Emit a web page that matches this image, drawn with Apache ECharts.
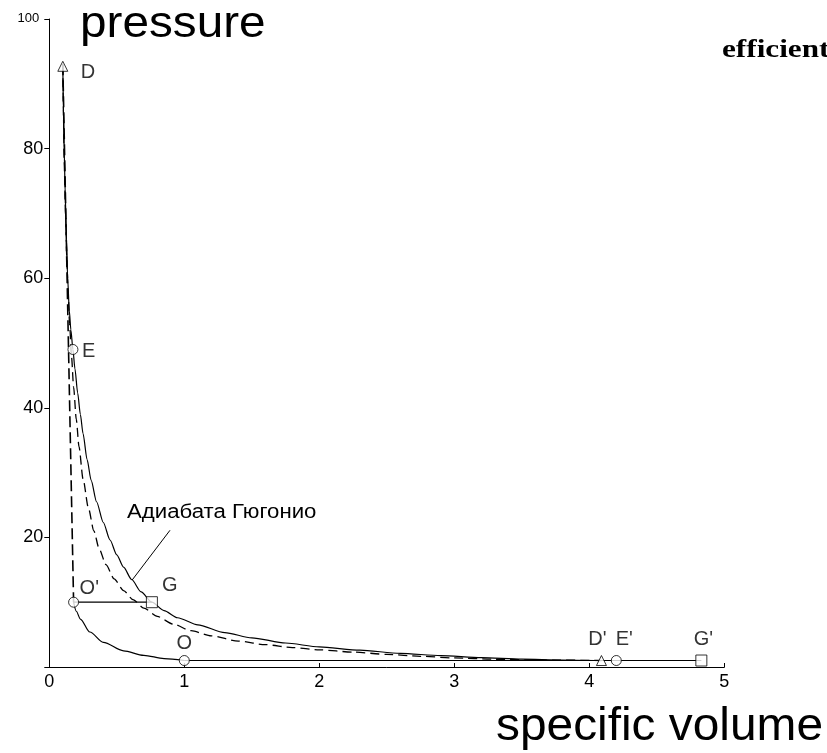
<!DOCTYPE html>
<html>
<head>
<meta charset="utf-8">
<script src="https://cdn.jsdelivr.net/npm/echarts@6/dist/echarts.min.js"></script>
<style>
html,body{margin:0;padding:0;background:#fff;}
#c{width:827px;height:753px;}
</style>
</head>
<body>
<div id="c"></div>
<script>
// ---- data ----
const xTicks = [0, 1, 2, 3, 4, 5];
const yTicks = [0, 20, 40, 60, 80, 100];
const hugoniotX = [0.100,0.105,0.110,0.118,0.127,0.136,0.148,0.160,0.175,0.190,0.210,0.230,0.250,0.280,0.310,0.350,0.400,0.450,0.500,0.550,0.610,0.680,0.760,0.850,0.950,1.100,1.300,1.500,1.750,2.000,2.300,2.600,2.900,3.200,3.500,3.800,4.090];
const hugoniotY = [93,86,80,73,66,60,55,52,49,46,42.3,39,36,32,28.8,25.5,22.3,19.6,17.3,15.4,13.5,11.6,10,8.7,7.6,6.5,5.3,4.5,3.7,3.1,2.6,2.1,1.75,1.45,1.22,1.08,1.0];
const poissonX = [0.100,0.105,0.110,0.120,0.130,0.140,0.150,0.165,0.180,0.200,0.220,0.250,0.290,0.330,0.370,0.420,0.480,0.550,0.620,0.700,0.800,0.920,1.050,1.200,1.400,1.600,1.800,2.000,2.250,2.500,2.750,3.000,3.300,3.600,4.090];
const poissonY = [93,85,78,70,63,57.5,53,47.8,43.2,38.2,34,29,24.5,21,18.2,15.8,13.6,11.8,10.4,9.1,7.8,6.6,5.6,4.8,4.0,3.45,3.0,2.65,2.3,1.95,1.65,1.4,1.2,1.08,1.0];
const rayleighX = [0.10, 0.18];
const rayleighY = [93, 10];
const lowerX = [0.18,0.2,0.23,0.3,0.4,0.55,0.7,0.85,1.0];
const lowerY = [10,8.6,7.4,5.4,3.8,2.5,1.8,1.3,1.0];
const chordOGX = [0.18, 0.76];
const chordOGY = [10, 10];
const baseX = [1.0, 4.83];
const baseY = [1, 1];
const pointerX = [0.894, 0.613];
const pointerY = [21.1, 13.4];
const ptNames = ["D", "E", "O'", "G", "O", "D'", "E'", "G'"];
const ptX = [0.10, 0.175, 0.18, 0.76, 1.0, 4.09, 4.20, 4.83];
const ptY = [92.7, 49, 10, 10, 1, 1, 1, 1];
const ptKind = ["tri", "circ", "circ", "sq", "circ", "tri", "circ", "sq"];
const yAxisName = "pressure";
const xAxisName = "specific volume";
const curveName = "Адиабата Гюгонио";
const cornerText = "efficient";

// ---- build ----
const zip = (a, b) => a.map((v, i) => [v, b[i]]);
const symMap = { tri: 'triangle', circ: 'circle', sq: 'rect' };
const sizeMap = { tri: [10, 10], circ: 10, sq: 11 };
const labelOffsets = {
  "D": [18, 6], "E": [9, 2], "O'": [6, -14], "G": [10, -17],
  "O": [0, -17], "D'": [-4, -21], "E'": [8, -21], "G'": [2, -21]
};
const labelAlign = { "D": 'left', "E": 'left', "O'": 'left', "G": 'left',
  "O": 'center', "D'": 'center', "E'": 'center', "G'": 'center' };

const lineBase = (name, xs, ys, extra) => Object.assign({
  name, type: 'line', data: zip(xs, ys), symbol: 'none', silent: true,
  lineStyle: { color: '#000', width: 1.2 }, z: 2
}, extra || {});

const chart = echarts.init(document.getElementById('c'), null, { renderer: 'canvas' });
const font = 'Liberation Sans, Arial, sans-serif';

chart.setOption({
  animation: false,
  backgroundColor: '#fff',
  grid: { left: 49.3, right: 102.7, top: 19, bottom: 86, containLabel: false },
  xAxis: {
    type: 'value', min: 0, max: 5, interval: 1,
    axisLine: { lineStyle: { color: '#000', width: 1 } },
    axisTick: { show: true, inside: true, length: 4, lineStyle: { color: '#000' } },
    axisLabel: { color: '#000', fontSize: 18, fontFamily: font, margin: 6,
      formatter: v => xTicks.includes(v) ? String(v) : '' },
    splitLine: { show: false }
  },
  yAxis: {
    type: 'value', min: 0, max: 100, interval: 20,
    axisLine: { show: true, lineStyle: { color: '#000', width: 1 } },
    axisTick: { show: true, length: 5, lineStyle: { color: '#000' } },
    axisLabel: { color: '#000', fontSize: 18, fontFamily: font, margin: 6,
      formatter: v => v === 0 ? '' : (v === 100 ? '{s|' + v + '}' : (yTicks.includes(v) ? String(v) : '')),
      rich: { s: { fontSize: 13, fontFamily: font, color: '#000', padding: [0, 4, 2, 0] } } },
    splitLine: { show: false }
  },
  series: [
    lineBase('hugoniot', hugoniotX, hugoniotY, { smooth: 0.25, smoothMonotone: 'x' }),
    lineBase('poisson', poissonX, poissonY, { smooth: 0.25, smoothMonotone: 'x',
      lineStyle: { color: '#000', width: 1.3, type: [9, 5] } }),
    lineBase('rayleigh', rayleighX, rayleighY, { lineStyle: { color: '#000', width: 1.6, type: [11, 5] } }),
    lineBase('lower', lowerX, lowerY, { smooth: 0.3, smoothMonotone: 'x' }),
    lineBase('chordOG', chordOGX, chordOGY),
    lineBase('base', baseX, baseY),
    lineBase('pointer', pointerX, pointerY, { lineStyle: { color: '#000', width: 1 } }),
    {
      type: 'scatter', z: 5, silent: true,
      data: ptNames.map((n, i) => ({
        name: n, value: [ptX[i], ptY[i]],
        symbol: symMap[ptKind[i]], symbolSize: sizeMap[ptKind[i]],
        label: { show: true, formatter: n, position: 'inside', offset: labelOffsets[n],
          align: labelAlign[n], verticalAlign: 'middle',
          color: '#000', fontSize: 20, fontFamily: font }
      })),
      itemStyle: { color: '#fff', borderColor: '#000', borderWidth: 1 }
    }
  ],
  graphic: [
    { type: 'text', x: 80, y: 2, scaleX: 1.06, style: { text: yAxisName, fontSize: 45, fontFamily: font, fill: '#000', verticalAlign: 'top' } },
    { type: 'text', x: 496, y: 704, scaleX: 1.04, style: { text: xAxisName, fontSize: 46, fontFamily: font, fill: '#000', verticalAlign: 'top' } },
    { type: 'text', x: 127, y: 502, scaleX: 1.11, style: { text: curveName, fontSize: 20, fontFamily: font, fill: '#000', verticalAlign: 'top' } },
    { type: 'text', x: 722, y: 37, scaleX: 1.2, style: { text: cornerText, fontSize: 26, fontWeight: 'bold', fontFamily: 'Liberation Serif, Times New Roman, serif', fill: '#000', verticalAlign: 'top' } }
  ]
});
</script>
</body>
</html>
